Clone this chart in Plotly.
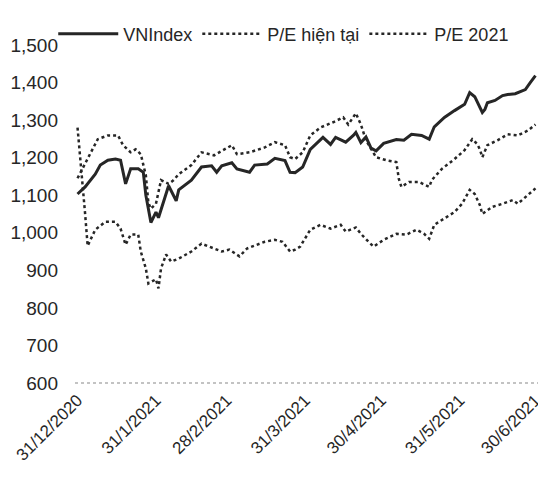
import plotly.graph_objects as go

# VNIndex (solid line)
vn_dates = [
    "2020-12-31", "2021-01-03", "2021-01-07", "2021-01-09", "2021-01-12", "2021-01-15",
    "2021-01-17", "2021-01-19", "2021-01-21", "2021-01-24", "2021-01-26", "2021-01-27",
    "2021-01-29", "2021-01-31", "2021-02-01", "2021-02-04", "2021-02-05", "2021-02-08",
    "2021-02-09", "2021-02-14", "2021-02-18", "2021-02-22", "2021-02-24", "2021-02-26",
    "2021-03-02", "2021-03-04", "2021-03-09", "2021-03-11", "2021-03-16", "2021-03-19",
    "2021-03-23", "2021-03-25", "2021-03-27", "2021-03-30", "2021-04-02", "2021-04-07",
    "2021-04-10", "2021-04-12", "2021-04-16", "2021-04-19", "2021-04-20", "2021-04-22",
    "2021-04-24", "2021-04-26", "2021-04-28", "2021-05-01", "2021-05-06", "2021-05-09",
    "2021-05-12", "2021-05-16", "2021-05-19", "2021-05-21", "2021-05-25", "2021-05-29",
    "2021-06-02", "2021-06-04", "2021-06-06", "2021-06-09", "2021-06-10", "2021-06-11",
    "2021-06-14", "2021-06-17", "2021-06-19", "2021-06-22", "2021-06-26", "2021-06-28",
    "2021-06-30",
]
vn_values = [
    1103, 1122, 1156, 1180, 1193, 1196,
    1193, 1130, 1170, 1170, 1161, 1100,
    1027, 1055, 1040, 1108, 1125, 1085,
    1114, 1140, 1175, 1178, 1161, 1178,
    1186, 1170, 1161, 1180, 1183, 1198,
    1192, 1161, 1160, 1175, 1222, 1254,
    1235, 1254, 1241, 1259, 1267, 1240,
    1255, 1225, 1218, 1238, 1248, 1246,
    1262, 1259, 1249, 1282, 1307, 1325,
    1342, 1373, 1362, 1320, 1328, 1346,
    1352, 1365, 1368, 1370, 1381, 1400,
    1418,
]

# P/E hien tai (upper dotted)
pe_now_dates = [
    "2020-12-31", "2021-01-04", "2021-01-08", "2021-01-12", "2021-01-16", "2021-01-18",
    "2021-01-21", "2021-01-23", "2021-01-25", "2021-01-27", "2021-01-28", "2021-01-29",
    "2021-01-31", "2021-02-02", "2021-02-05", "2021-02-07", "2021-02-09", "2021-02-14",
    "2021-02-18", "2021-02-23", "2021-02-27", "2021-03-02", "2021-03-04", "2021-03-09",
    "2021-03-15", "2021-03-19", "2021-03-23", "2021-03-25", "2021-03-27", "2021-03-30",
    "2021-04-02", "2021-04-06", "2021-04-11", "2021-04-15", "2021-04-17", "2021-04-20",
    "2021-04-22", "2021-04-24", "2021-04-28", "2021-05-02", "2021-05-06", "2021-05-07",
    "2021-05-08", "2021-05-11", "2021-05-15", "2021-05-19", "2021-05-20", "2021-05-24",
    "2021-05-29", "2021-06-02", "2021-06-05", "2021-06-07", "2021-06-08", "2021-06-09",
    "2021-06-11", "2021-06-15", "2021-06-19", "2021-06-23", "2021-06-27", "2021-06-30",
]
pe_now_values = [
    1145, 1196, 1249, 1259, 1259, 1233,
    1214, 1222, 1209, 1153, 1080, 1064,
    1077, 1140, 1130, 1140, 1156, 1180,
    1214, 1206, 1222, 1233, 1209, 1214,
    1227, 1241, 1233, 1201, 1196, 1214,
    1259, 1280, 1294, 1307, 1288, 1318,
    1288, 1246, 1201, 1193, 1188, 1143,
    1122, 1135, 1135, 1122, 1140, 1170,
    1196, 1220, 1249, 1236, 1222, 1201,
    1233, 1246, 1262, 1259, 1272, 1288,
]

# P/E 2021 (lower dotted)
pe_2021_dates = [
    "2020-12-31", "2021-01-01", "2021-01-02", "2021-01-03", "2021-01-04", "2021-01-07",
    "2021-01-11", "2021-01-15", "2021-01-17", "2021-01-19", "2021-01-21", "2021-01-24",
    "2021-01-25", "2021-01-27", "2021-01-28", "2021-01-31", "2021-02-01", "2021-02-02",
    "2021-02-04", "2021-02-06", "2021-02-09", "2021-02-14", "2021-02-18", "2021-02-23",
    "2021-02-26", "2021-03-01", "2021-03-05", "2021-03-08", "2021-03-12", "2021-03-15",
    "2021-03-19", "2021-03-22", "2021-03-25", "2021-03-27", "2021-03-29", "2021-03-31",
    "2021-04-02", "2021-04-06", "2021-04-10", "2021-04-14", "2021-04-16", "2021-04-20",
    "2021-04-22", "2021-04-25", "2021-04-27", "2021-05-01", "2021-05-06", "2021-05-10",
    "2021-05-14", "2021-05-17", "2021-05-19", "2021-05-21", "2021-05-25", "2021-05-29",
    "2021-06-01", "2021-06-04", "2021-06-06", "2021-06-08", "2021-06-09", "2021-06-13",
    "2021-06-17", "2021-06-21", "2021-06-23", "2021-06-26", "2021-06-30",
]
pe_2021_values = [
    1280, 1210, 1130, 1050, 965, 1008,
    1029, 1029, 1011, 968, 995, 995,
    950, 905, 865, 876, 852, 905,
    942, 923, 931, 950, 971, 958,
    950, 955, 937, 958, 968, 976,
    981, 976, 950, 955, 963, 984,
    1008, 1021, 1011, 1021, 1003, 1014,
    997, 976, 963, 981, 997, 995,
    1008, 997, 984, 1021, 1037, 1055,
    1077, 1114, 1103, 1074, 1050, 1069,
    1077, 1087, 1077, 1095, 1118,
]

tick_dates = ["2020-12-31", "2021-01-31", "2021-02-28", "2021-03-31",
              "2021-04-30", "2021-05-31", "2021-06-30"]
tick_labels = ["31/12/2020", "31/1/2021", "28/2/2021", "31/3/2021",
               "30/4/2021", "31/5/2021", "30/6/2021"]
y_ticks = [600, 700, 800, 900, 1000, 1100, 1200, 1300, 1400, 1500]
baseline = 600

FONT = "Liberation Sans, Arial"
INK = "#262626"

fig = go.Figure()

fig.add_trace(go.Scatter(
    x=vn_dates, y=vn_values, mode="lines", name="VNIndex",
    line=dict(color=INK, width=3),
))
fig.add_trace(go.Scatter(
    x=pe_now_dates, y=pe_now_values, mode="lines", name="P/E hiện tại",
    line=dict(color=INK, width=2.5, dash="dot"),
))
fig.add_trace(go.Scatter(
    x=pe_2021_dates, y=pe_2021_values, mode="lines", name="P/E 2021",
    line=dict(color=INK, width=2.5, dash="dot"),
))

# faint dotted baseline at the bottom
fig.add_hline(y=baseline, line=dict(color="#b0b0b0", width=1.5, dash="dot"))

# page body has an 8px margin, so the figure is sized to fit the window;
# legend is anchored at the very top of the paper so it does not push the margin
fig.update_layout(
    width=538, height=470,
    paper_bgcolor="white", plot_bgcolor="white",
    margin=dict(l=67, r=8, t=30, b=92),
    font=dict(family=FONT, color=INK, size=19),
    showlegend=True,
    legend=dict(
        orientation="h", x=-0.047, xanchor="left", y=1.08, yanchor="top",
        font=dict(size=18), bgcolor="rgba(0,0,0,0)", itemwidth=60,
    ),
    xaxis=dict(
        type="date", range=["2020-12-30", "2021-07-01"], automargin=False,
        tickmode="array", tickvals=tick_dates, ticktext=tick_labels,
        tickangle=-45, showgrid=False, zeroline=False, showline=False,
        ticks="", tickfont=dict(size=17), ticklabeloverflow="allow",
    ),
    yaxis=dict(
        range=[592, 1505], automargin=False, tickmode="array", tickvals=y_ticks,
        tickformat=",d", showgrid=False, zeroline=False, showline=False,
        ticks="", tickfont=dict(size=19), ticklabelstandoff=16,
    ),
)

fig.write_html("out.html")
